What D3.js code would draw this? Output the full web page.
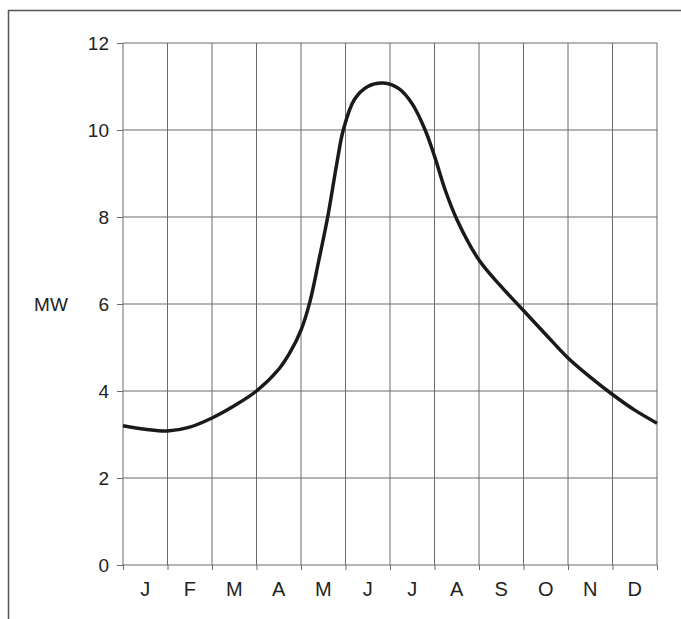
<!DOCTYPE html>
<html>
<head>
<meta charset="utf-8">
<script src="https://cdn.jsdelivr.net/npm/d3@7"></script>
<style>
  html, body { margin: 0; padding: 0; background: #fff; }
  svg { display: block; }
  text { font-family: "Liberation Sans", Arial, Helvetica, sans-serif; fill: #222; }
</style>
</head>
<body>
<svg id="chart" width="681" height="619"></svg>
<script>
// Month labels
const months = ["J", "F", "M", "A", "M", "J", "J", "A", "S", "O", "N", "D"];
// Y tick values
const yTicks = [0, 2, 4, 6, 8, 10, 12];
// Curve: position in months (0 = start of Jan, 12 = end of Dec)
const curveMonth = [0, 0.5, 1.0, 1.5, 2.0, 2.5, 3.0, 3.5, 3.75, 4.0, 4.2, 4.4, 4.6, 4.8, 4.95, 5.2, 5.5, 5.85, 6.2, 6.5, 6.79, 7.0, 7.24, 7.5, 8.0, 8.5, 9.0, 9.5, 10.0, 10.5, 11.0, 11.5, 12.0];
// Curve: power in MW
const curveMW = [3.2, 3.12, 3.08, 3.17, 3.38, 3.66, 4.0, 4.5, 4.88, 5.4, 6.05, 7.0, 8.0, 9.2, 10.0, 10.7, 11.0, 11.08, 10.95, 10.6, 10.0, 9.4, 8.62, 7.95, 7.01, 6.4, 5.85, 5.3, 4.76, 4.32, 3.92, 3.56, 3.26];
const yLabel = "MW";

const svg = d3.select("#chart");
const W = 681, H = 619;
const mLeft = 123, mRight = 657, mTop = 43, mBottom = 565;

const x = d3.scaleLinear().domain([0, 12]).range([mLeft, mRight]);
const y = d3.scaleLinear().domain([0, 12]).range([mBottom, mTop]);

// Frame (top and left lines)
svg.append("path")
  .attr("d", `M${W},10.5 H8.5 V${H}`)
  .attr("fill", "none").attr("stroke", "#555").attr("stroke-width", 1.5);

const gridColor = "#6a6a6a";

// Horizontal grid + y ticks
const yAxis = d3.axisLeft(y).tickValues(yTicks).tickSize(6).tickPadding(8).tickFormat(d3.format("d"));
const gy = svg.append("g").attr("transform", `translate(${mLeft},0)`).call(yAxis);
gy.select(".domain").remove();
gy.selectAll("line").attr("stroke", gridColor);
gy.selectAll("text").attr("font-size", 19).attr("fill", "#222")
  .style("font-family", '"Liberation Sans", Arial, sans-serif');

svg.append("g").selectAll("line").data(yTicks).join("line")
  .attr("x1", mLeft).attr("x2", mRight)
  .attr("y1", d => y(d)).attr("y2", d => y(d))
  .attr("stroke", gridColor).attr("stroke-width", 1);

// Vertical grid + x ticks at month boundaries
const bounds = d3.range(0, 13);
const xAxis = d3.axisBottom(x).tickValues(bounds).tickSize(5).tickFormat("");
const gx = svg.append("g").attr("transform", `translate(0,${mBottom})`).call(xAxis);
gx.select(".domain").remove();
gx.selectAll("line").attr("stroke", gridColor);

svg.append("g").selectAll("line").data(bounds).join("line")
  .attr("x1", d => x(d)).attr("x2", d => x(d))
  .attr("y1", mTop).attr("y2", mBottom)
  .attr("stroke", gridColor).attr("stroke-width", 1);

// Month labels
svg.append("g").selectAll("text").data(months).join("text")
  .attr("x", (d, i) => x(i + 0.5))
  .attr("y", 596)
  .attr("text-anchor", "middle")
  .attr("font-size", 20)
  .text(d => d);

// Y label
svg.append("text").attr("x", 51).attr("y", 311).attr("text-anchor", "middle")
  .attr("font-size", 19).text(yLabel);

// Curve
const pts = curveMonth.map((m, i) => [m, curveMW[i]]);
const line = d3.line().x(d => x(d[0])).y(d => y(d[1])).curve(d3.curveCatmullRom.alpha(0.5));
svg.append("path").datum(pts)
  .attr("d", line)
  .attr("fill", "none").attr("stroke", "#1a1a1a").attr("stroke-width", 3.5)
  .attr("stroke-linejoin", "round").attr("stroke-linecap", "butt");
</script>
</body>
</html>
